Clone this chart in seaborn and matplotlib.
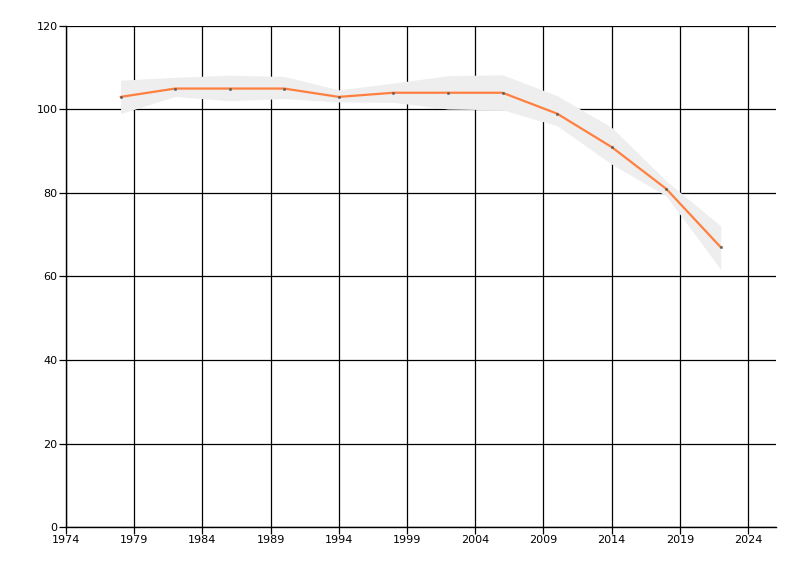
import numpy as np
import pandas as pd
import matplotlib
matplotlib.use("Agg")
import matplotlib.pyplot as plt
import seaborn as sns

years = [1978, 1982, 1986, 1990, 1994, 1998, 2002, 2006, 2010, 2014, 2018, 2022]
values = [103, 105, 105, 105, 103, 104, 104, 104, 99, 91, 81, 67]
band_upper = [107.0, 107.7, 108.2, 107.9, 104.7, 106.3, 108.1, 108.3, 103.3, 95.7, 82.9, 72.1]
band_lower = [99.0, 103.1, 102.1, 102.6, 101.8, 101.7, 100.1, 99.9, 96.1, 86.9, 79.3, 61.7]
x_ticks = [1974, 1979, 1984, 1989, 1994, 1999, 2004, 2009, 2014, 2019, 2024]
y_ticks = [0, 20, 40, 60, 80, 100, 120]

df = pd.DataFrame({"year": years, "value": values,
                   "upper": band_upper, "lower": band_lower})

sns.set_style("white")
plt.rcParams["font.family"] = ["DejaVu Sans"]

fig = plt.figure(figsize=(8, 5.76), dpi=100)
ax = fig.add_axes([0.0825, 0.085, 0.8875, 0.87])

# confidence band
ax.fill_between(df["year"], df["lower"], df["upper"], color="#eeeeee",
                linewidth=0, zorder=2)

sns.lineplot(data=df, x="year", y="value", ax=ax, color="#ff7f3f",
             linewidth=1.6, marker="s", markersize=1.4,
             markerfacecolor="#555555", markeredgecolor="#555555",
             markeredgewidth=0.3, zorder=3)

ax.set_xlim(1974, 2026.05)
ax.set_ylim(0, 120)
ax.set_xticks(x_ticks)
ax.set_yticks(y_ticks)
ax.grid(True, color="black", linewidth=0.9)
ax.set_axisbelow(True)
ax.set_xlabel("")
ax.set_ylabel("")

for side in ["top", "right"]:
    ax.spines[side].set_visible(False)
for side in ["left", "bottom"]:
    ax.spines[side].set_color("black")
    ax.spines[side].set_linewidth(1.0)

ax.tick_params(axis="both", direction="out", length=5, width=0.9,
               color="black", labelsize=8, labelcolor="black", pad=1)
ax.tick_params(axis="x", bottom=True)
ax.tick_params(axis="y", left=True)

fig.savefig("out.png", dpi=100)
